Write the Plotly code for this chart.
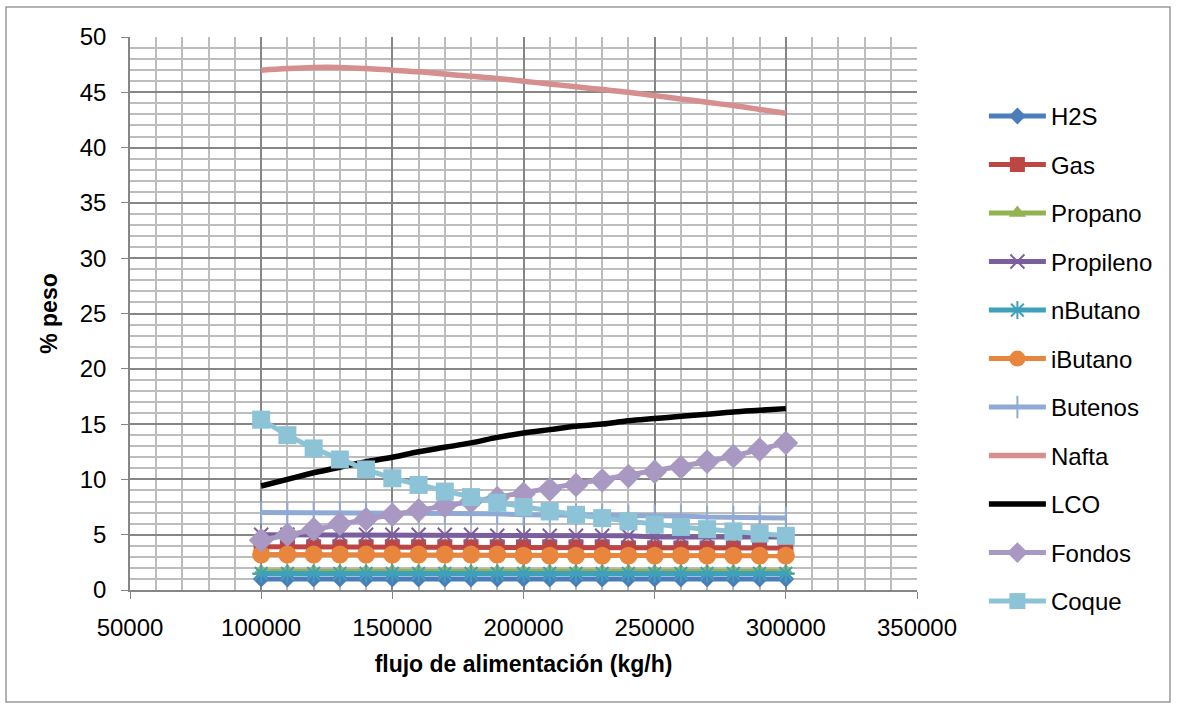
import plotly.graph_objects as go

# Feed flow rate (kg/h)
flujo = [100000, 110000, 120000, 130000, 140000, 150000, 160000, 170000, 180000, 190000,
         200000, 210000, 220000, 230000, 240000, 250000, 260000, 270000, 280000, 290000, 300000]

# Product yields (% weight)
h2s = [1.0, 1.0, 1.0, 1.0, 1.0, 1.0, 1.0, 1.0, 1.0, 1.0,
       1.0, 1.0, 1.0, 1.0, 1.0, 1.0, 1.0, 1.0, 1.0, 1.0, 1.0]
gas = [3.9, 3.9, 3.9, 3.9, 3.9, 3.9, 3.9, 3.9, 3.9, 3.9,
       3.9, 3.9, 3.9, 3.9, 3.8, 3.8, 3.8, 3.8, 3.8, 3.8, 3.8]
propano = [1.7, 1.7, 1.7, 1.7, 1.7, 1.7, 1.7, 1.7, 1.7, 1.7,
           1.7, 1.7, 1.7, 1.7, 1.7, 1.7, 1.7, 1.7, 1.7, 1.7, 1.7]
propileno = [5.0, 5.0, 5.0, 5.0, 5.0, 5.0, 5.0, 5.0, 5.0, 4.9,
             4.9, 4.9, 4.9, 4.9, 4.9, 4.8, 4.8, 4.8, 4.8, 4.8, 4.8]
nbutano = [1.5, 1.5, 1.5, 1.5, 1.5, 1.5, 1.5, 1.5, 1.5, 1.5,
           1.5, 1.5, 1.5, 1.5, 1.5, 1.5, 1.5, 1.5, 1.5, 1.5, 1.5]
ibutano = [3.2, 3.2, 3.2, 3.2, 3.2, 3.2, 3.2, 3.2, 3.2, 3.2,
           3.1, 3.1, 3.1, 3.1, 3.1, 3.1, 3.1, 3.1, 3.1, 3.1, 3.1]
butenos = [7.0, 7.0, 7.0, 7.0, 7.0, 7.0, 6.9, 6.9, 6.9, 6.9,
           6.8, 6.8, 6.8, 6.8, 6.7, 6.7, 6.7, 6.6, 6.6, 6.6, 6.5]
nafta = [47.0, 47.15, 47.25, 47.25, 47.15, 47.0, 46.85, 46.65, 46.45, 46.25,
         46.0, 45.75, 45.5, 45.25, 45.0, 44.7, 44.4, 44.1, 43.8, 43.45, 43.1]
lco = [9.4, 10.0, 10.6, 11.1, 11.6, 12.0, 12.5, 12.9, 13.3, 13.8,
       14.2, 14.5, 14.8, 15.0, 15.3, 15.5, 15.7, 15.9, 16.1, 16.25, 16.4]
fondos = [4.5, 5.0, 5.5, 6.0, 6.4, 6.8, 7.2, 7.6, 8.0, 8.3,
          8.7, 9.1, 9.5, 9.9, 10.3, 10.7, 11.1, 11.6, 12.1, 12.7, 13.3]
coque = [15.4, 14.0, 12.8, 11.8, 10.9, 10.1, 9.5, 8.9, 8.4, 7.9,
         7.5, 7.1, 6.8, 6.5, 6.2, 5.9, 5.7, 5.5, 5.3, 5.1, 4.9]

series = [
    ("H2S", h2s, "#4A7EBB", "diamond", 13, "linear"),
    ("Gas", gas, "#BB4643", "square", 15, "linear"),
    ("Propano", propano, "#92B350", "triangle-up", 15, "linear"),
    ("Propileno", propileno, "#7B5E9E", "x-thin-open", 14, "linear"),
    ("nButano", nbutano, "#3FA0BA", "asterisk-open", 15, "linear"),
    ("iButano", ibutano, "#E8863D", "circle", 18, "linear"),
    ("Butenos", butenos, "#8FAAD5", "line-ns-open", 16, "linear"),
    ("Nafta", nafta, "#D48F8E", None, 0, "spline"),
    ("LCO", lco, "#000000", None, 0, "spline"),
    ("Fondos", fondos, "#A898C2", "diamond", 19, "linear"),
    ("Coque", coque, "#8CC3D6", "square", 18, "linear"),
]

fig = go.Figure()
for name, vals, color, symbol, size, shape in series:
    if symbol is None:
        mode = "lines"
        marker = None
        width = 5.5
    else:
        mode = "lines+markers"
        open_sym = symbol.endswith("-open")
        marker = dict(symbol=symbol, size=size, color=color,
                      line=dict(color=color, width=2 if open_sym else 0))
        width = 5
    fig.add_trace(go.Scatter(
        x=flujo, y=vals, name=name, mode=mode,
        line=dict(color=color, width=width, shape=shape),
        marker=marker, legendgroup=name,
    ))

FONT = "Liberation Sans, Arial, sans-serif"
axis_font = dict(family=FONT, size=24, color="#000000")

fig.update_layout(
    width=1178, height=709,
    margin=dict(l=130, r=261, t=37, b=119),
    paper_bgcolor="white", plot_bgcolor="white",
    font=axis_font,
    showlegend=True,
    legend=dict(x=1.085, y=0.897, xanchor="left", yanchor="top",
                font=dict(family=FONT, size=24, color="#000000"),
                itemwidth=57, tracegroupgap=14.3, bgcolor="rgba(0,0,0,0)"),
    xaxis=dict(
        range=[50000, 350000], dtick=50000, tick0=50000, tickformat="d",
        showgrid=True, gridcolor="#868686", gridwidth=1.6,
        minor=dict(dtick=10000, showgrid=True, gridcolor="#BDBDBD", gridwidth=1.6),
        showline=True, linecolor="#868686", linewidth=1.6,
        ticks="outside", ticklen=7, tickcolor="#868686", ticklabelstandoff=8,
        zeroline=False, tickfont=axis_font,
        title=dict(text="<b>flujo de alimentación (kg/h)</b>", standoff=16,
                   font=dict(family=FONT, size=23, color="#000000")),
    ),
    yaxis=dict(
        range=[0, 50], dtick=5, tick0=0,
        showgrid=True, gridcolor="#868686", gridwidth=1.6,
        minor=dict(dtick=1, showgrid=True, gridcolor="#BDBDBD", gridwidth=1.6),
        showline=True, linecolor="#868686", linewidth=1.6,
        ticks="outside", ticklen=7, tickcolor="#868686", ticklabelstandoff=10,
        zeroline=False, tickfont=axis_font,
        title=dict(text="<b>% peso</b>", standoff=16,
                   font=dict(family=FONT, size=23, color="#000000")),
    ),
)

# Chart frame around the whole figure
fig.add_shape(type="rect", xref="paper", yref="paper",
              x0=(6 - 130) / 787, x1=(1170 - 130) / 787,
              y0=(590 - 702) / 553, y1=(590 - 7) / 553,
              line=dict(color="#9A9A9A", width=1.5), fillcolor="rgba(0,0,0,0)", layer="below")

fig.write_html("out.html")
